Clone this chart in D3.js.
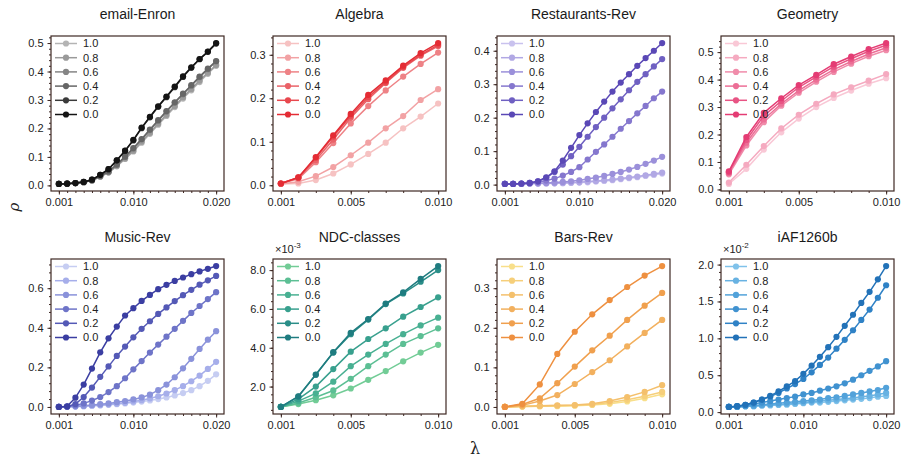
<!DOCTYPE html>
<html>
<head>
<meta charset="utf-8">
<script src="https://cdn.jsdelivr.net/npm/d3@7"></script>
<style>
  html, body { margin: 0; padding: 0; background: #ffffff; }
  svg { display: block; font-family: "Liberation Sans", Arial, Helvetica, sans-serif; }
</style>
</head>
<body>
<svg id="chart" width="902" height="461"></svg>
<script>
// ---------------- DATA ----------------
const lambda20 = [0.001,0.002,0.003,0.004,0.005,0.006,0.007,0.008,0.009,0.010,
                  0.011,0.012,0.013,0.014,0.015,0.016,0.017,0.018,0.019,0.020];
const lambda10 = [0.001,0.002,0.003,0.004,0.005,0.006,0.007,0.008,0.009,0.010];
const seriesLabels = ["1.0","0.8","0.6","0.4","0.2","0.0"];

const titles = ["email-Enron","Algebra","Restaurants-Rev","Geometry","Music-Rev","NDC-classes","Bars-Rev","iAF1260b"];

// series order: 1.0, 0.8, 0.6, 0.4, 0.2, 0.0
const emailEnron = [
  [0.005,0.006,0.008,0.011,0.017,0.030,0.045,0.067,0.093,0.119,0.150,0.181,0.213,0.244,0.275,0.305,0.334,0.363,0.392,0.420],
  [0.005,0.006,0.008,0.011,0.017,0.031,0.046,0.069,0.095,0.122,0.154,0.185,0.217,0.248,0.279,0.310,0.339,0.368,0.396,0.423],
  [0.005,0.006,0.008,0.011,0.018,0.032,0.048,0.072,0.100,0.129,0.161,0.194,0.227,0.259,0.290,0.320,0.350,0.380,0.408,0.435],
  [0.005,0.006,0.008,0.011,0.018,0.033,0.049,0.073,0.101,0.131,0.163,0.196,0.229,0.261,0.292,0.322,0.352,0.382,0.410,0.437],
  [0.005,0.006,0.008,0.012,0.020,0.037,0.057,0.088,0.121,0.158,0.201,0.239,0.276,0.310,0.345,0.381,0.413,0.443,0.469,0.498],
  [0.005,0.006,0.008,0.012,0.020,0.037,0.057,0.088,0.122,0.160,0.203,0.241,0.278,0.312,0.347,0.383,0.415,0.444,0.470,0.500]
];
const algebra = [
  [0.003,0.004,0.012,0.027,0.048,0.072,0.098,0.131,0.158,0.188],
  [0.003,0.008,0.021,0.042,0.069,0.098,0.131,0.159,0.196,0.221],
  [0.004,0.015,0.053,0.097,0.142,0.182,0.218,0.250,0.279,0.305],
  [0.004,0.017,0.058,0.105,0.155,0.198,0.235,0.270,0.298,0.320],
  [0.004,0.018,0.063,0.112,0.160,0.203,0.237,0.272,0.300,0.323],
  [0.004,0.018,0.065,0.115,0.164,0.208,0.241,0.275,0.304,0.327]
];
const restaurantsRev = [
  [0.002,0.002,0.002,0.003,0.003,0.003,0.004,0.004,0.005,0.006,0.007,0.009,0.011,0.013,0.016,0.019,0.022,0.026,0.029,0.033],
  [0.002,0.002,0.002,0.003,0.003,0.004,0.004,0.005,0.006,0.007,0.009,0.011,0.013,0.015,0.018,0.021,0.024,0.028,0.032,0.036],
  [0.002,0.002,0.002,0.003,0.004,0.005,0.006,0.008,0.010,0.013,0.017,0.021,0.026,0.032,0.038,0.045,0.053,0.062,0.072,0.083],
  [0.002,0.002,0.003,0.004,0.007,0.012,0.018,0.027,0.038,0.052,0.075,0.098,0.120,0.143,0.167,0.190,0.213,0.235,0.258,0.278],
  [0.002,0.002,0.003,0.005,0.010,0.020,0.038,0.060,0.085,0.113,0.143,0.172,0.200,0.228,0.255,0.282,0.307,0.330,0.353,0.375],
  [0.002,0.002,0.003,0.005,0.010,0.022,0.040,0.072,0.110,0.148,0.183,0.217,0.248,0.278,0.305,0.330,0.355,0.378,0.400,0.423]
];
const geometry = [
  [0.020,0.075,0.145,0.208,0.258,0.300,0.333,0.360,0.385,0.405],
  [0.025,0.090,0.158,0.222,0.272,0.312,0.346,0.372,0.396,0.420],
  [0.055,0.160,0.245,0.305,0.352,0.392,0.428,0.458,0.485,0.507],
  [0.060,0.170,0.255,0.312,0.360,0.400,0.436,0.466,0.493,0.516],
  [0.063,0.180,0.268,0.322,0.372,0.410,0.447,0.476,0.503,0.525],
  [0.066,0.191,0.279,0.332,0.380,0.417,0.456,0.484,0.511,0.533]
];
const musicRev = [
  [0.000,0.001,0.002,0.004,0.006,0.008,0.011,0.014,0.018,0.022,0.027,0.033,0.040,0.048,0.058,0.070,0.085,0.105,0.132,0.165],
  [0.000,0.001,0.002,0.004,0.006,0.009,0.012,0.016,0.021,0.027,0.034,0.043,0.054,0.068,0.085,0.105,0.130,0.158,0.192,0.228],
  [0.000,0.001,0.003,0.006,0.010,0.014,0.018,0.024,0.030,0.038,0.048,0.062,0.085,0.113,0.150,0.195,0.243,0.293,0.340,0.383],
  [0.000,0.002,0.008,0.018,0.032,0.050,0.075,0.105,0.145,0.190,0.232,0.275,0.315,0.355,0.395,0.435,0.475,0.510,0.545,0.580],
  [0.000,0.002,0.015,0.050,0.098,0.152,0.205,0.258,0.305,0.352,0.395,0.433,0.470,0.503,0.535,0.565,0.592,0.618,0.640,0.662],
  [0.000,0.003,0.047,0.113,0.194,0.276,0.347,0.406,0.462,0.499,0.536,0.566,0.595,0.617,0.637,0.654,0.671,0.685,0.698,0.712]
];
// NDC-classes values in units of 1e-3
const ndcClasses = [
  [0.95,1.10,1.30,1.55,1.90,2.35,2.80,3.30,3.75,4.15],
  [0.95,1.15,1.45,1.80,2.40,3.05,3.65,4.20,4.60,5.00],
  [0.95,1.25,1.65,2.25,3.05,3.65,4.20,4.70,5.15,5.55],
  [0.95,1.35,2.00,2.90,3.80,4.45,5.00,5.60,6.10,6.60],
  [0.95,1.48,2.62,3.75,4.70,5.45,6.25,6.80,7.40,8.00],
  [0.95,1.50,2.61,3.77,4.77,5.48,6.28,6.85,7.55,8.21]
];
const barsRev = [
  [0.000,0.001,0.002,0.002,0.003,0.005,0.008,0.014,0.022,0.032],
  [0.000,0.001,0.002,0.003,0.004,0.006,0.011,0.018,0.027,0.038],
  [0.000,0.002,0.003,0.004,0.005,0.008,0.015,0.025,0.038,0.055],
  [0.000,0.004,0.015,0.030,0.058,0.088,0.118,0.153,0.187,0.220],
  [0.000,0.006,0.022,0.060,0.102,0.143,0.180,0.220,0.256,0.288],
  [0.000,0.008,0.057,0.134,0.190,0.234,0.270,0.303,0.332,0.356]
];
// iAF1260b values in units of 1e-2
const iAF1260b = [
  [0.07,0.07,0.08,0.08,0.09,0.09,0.10,0.10,0.11,0.12,0.13,0.13,0.14,0.15,0.16,0.17,0.18,0.19,0.21,0.22],
  [0.07,0.07,0.08,0.08,0.09,0.10,0.10,0.11,0.12,0.13,0.14,0.15,0.16,0.17,0.18,0.19,0.21,0.22,0.24,0.26],
  [0.07,0.07,0.08,0.09,0.10,0.11,0.12,0.13,0.14,0.15,0.16,0.17,0.19,0.20,0.22,0.24,0.26,0.28,0.30,0.33],
  [0.07,0.08,0.09,0.11,0.13,0.15,0.17,0.19,0.21,0.24,0.26,0.29,0.32,0.35,0.39,0.44,0.50,0.56,0.62,0.69],
  [0.07,0.08,0.10,0.13,0.17,0.21,0.26,0.32,0.38,0.45,0.54,0.64,0.74,0.86,0.98,1.11,1.25,1.39,1.55,1.72],
  [0.07,0.08,0.10,0.13,0.17,0.22,0.28,0.35,0.42,0.52,0.63,0.75,0.88,1.02,1.17,1.32,1.48,1.63,1.80,1.98]
];

const yTicksList = [
  [0.0,0.1,0.2,0.3,0.4,0.5],
  [0.0,0.1,0.2,0.3],
  [0.0,0.1,0.2,0.3,0.4],
  [0.0,0.1,0.2,0.3,0.4,0.5],
  [0.0,0.2,0.4,0.6],
  [2.0,4.0,6.0,8.0],
  [0.0,0.1,0.2,0.3],
  [0.0,0.5,1.0,1.5,2.0]
];
const xTicks20 = [0.001,0.010,0.020];
const xTicks10 = [0.001,0.005,0.010];
const multipliers = [null,null,null,null,null,"-3",null,"-2"];

const palettes = [
  ["#b4b4b4","#9a9a9a","#858585","#666666","#3a3a3a","#141414"],
  ["#f6c2c2","#f2a2a4","#ee8286","#ea6268","#e8484e","#e42c34"],
  ["#c9c2ee","#b1a8e4","#9b90da","#8577ce","#6f60c2","#5a48b6"],
  ["#f9c8d6","#f5aac0","#f08caa","#ec6e96","#e85484","#e43c74"],
  ["#c6cdf2","#a6aeea","#8a92da","#6e74c8","#5459b6","#3b3ea2"],
  ["#72cc96","#5cbf94","#48b092","#38a08e","#2a8e88","#1f7c80"],
  ["#f8df8a","#f6cf7a","#f4c06c","#f2b05e","#f0a04e","#ee9040"],
  ["#80c2ea","#68b2e2","#52a2da","#4092d0","#2f82c6","#2272b8"]
];

// ---------------- LAYOUT ----------------
const svg = d3.select("#chart");
const colLeft = [51, 273, 497, 721];
const rowTop = [36, 259];
const PW = 173, PH = 155;
const frameColor = "#3e2823";
const textColor = "#222222";

const panels = [
  {data: emailEnron, xs: lambda20, xt: xTicks20},
  {data: algebra, xs: lambda10, xt: xTicks10},
  {data: restaurantsRev, xs: lambda20, xt: xTicks20},
  {data: geometry, xs: lambda10, xt: xTicks10},
  {data: musicRev, xs: lambda20, xt: xTicks20},
  {data: ndcClasses, xs: lambda10, xt: xTicks10},
  {data: barsRev, xs: lambda10, xt: xTicks10},
  {data: iAF1260b, xs: lambda20, xt: xTicks20}
];

panels.forEach((p, i) => {
  const left = colLeft[i % 4], top = rowTop[Math.floor(i / 4)];
  const g = svg.append("g").attr("transform", `translate(${left},${top})`);

  const xmin = d3.min(p.xs), xmax = d3.max(p.xs);
  const xpad = (xmax - xmin) * 0.05;
  const x = d3.scaleLinear().domain([xmin - xpad, xmax + xpad]).range([0, PW]);
  const all = p.data.flat();
  const ymin = d3.min(all), ymax = d3.max(all);
  const ypad = (ymax - ymin) * 0.05;
  const y = d3.scaleLinear().domain([ymin - ypad, ymax + ypad]).range([PH, 0]);

  const xMinor = g.append("g").attr("transform", `translate(0,${PH})`)
    .call(d3.axisBottom(x).tickValues(p.xs).tickSize(2).tickFormat(""));
  const xAxis = g.append("g").attr("transform", `translate(0,${PH})`)
    .call(d3.axisBottom(x).tickValues(p.xt).tickSize(3.5).tickPadding(4).tickFormat(d3.format(".3f")));
  const yt = yTicksList[i];
  const step = yt[1] - yt[0];
  const yMinorVals = [];
  const [d0, d1] = y.domain();
  for (let k = Math.ceil((d0 - yt[0]) / (step / 5) - 1e-9); ; k++) {
    const v = yt[0] + k * step / 5;
    if (v > d1) break;
    yMinorVals.push(v);
  }
  const yMinor = g.append("g").call(d3.axisLeft(y).tickValues(yMinorVals).tickSize(2).tickFormat(""));
  const yAxis = g.append("g").call(d3.axisLeft(y).tickValues(yt).tickSize(3.5).tickPadding(4).tickFormat(d3.format(".1f")));

  [xMinor, xAxis, yMinor, yAxis].forEach(a => {
    a.select(".domain").remove();
    a.selectAll("line").attr("stroke", frameColor).attr("stroke-width", 1);
    a.selectAll("text").attr("fill", textColor).style("font-size", "11px")
      .style("font-family", '"Liberation Sans", Arial, sans-serif');
  });

  const line = d3.line().x((d, j) => x(p.xs[j])).y(d => y(d));
  p.data.forEach((ser, s) => {
    const col = palettes[i][s];
    g.append("path").datum(ser).attr("d", line)
      .attr("fill", "none").attr("stroke", col).attr("stroke-width", 1.5);
    g.selectAll(null).data(ser).enter().append("circle")
      .attr("cx", (d, j) => x(p.xs[j])).attr("cy", d => y(d)).attr("r", 3.1)
      .attr("fill", col);
  });

  g.append("rect").attr("x", 0).attr("y", 0).attr("width", PW).attr("height", PH)
    .attr("fill", "none").attr("stroke", frameColor).attr("stroke-width", 1.2);

  const lg = g.append("g").attr("transform", "translate(4,7.5)");
  seriesLabels.forEach((lab, s) => {
    const row = lg.append("g").attr("transform", `translate(0,${s * 14.2})`);
    const col = palettes[i][s];
    row.append("line").attr("x1", 0).attr("x2", 22).attr("y1", 0).attr("y2", 0)
      .attr("stroke", col).attr("stroke-width", 1.5);
    row.append("circle").attr("cx", 11).attr("cy", 0).attr("r", 3.1).attr("fill", col);
    row.append("text").attr("x", 28).attr("y", 0).attr("dy", "0.36em")
      .attr("fill", textColor).style("font-size", "11px").text(lab);
  });

  g.append("text").attr("x", PW / 2).attr("y", -17).attr("text-anchor", "middle")
    .attr("fill", "#1a1a1a").style("font-size", "14px").text(titles[i]);

  if (multipliers[i]) {
    const t = g.append("text").attr("x", 2).attr("y", -6).attr("fill", textColor)
      .style("font-size", "11px");
    t.append("tspan").text("×10");
    t.append("tspan").attr("dy", -5).style("font-size", "8px").text(multipliers[i]);
  }
});

svg.append("text").attr("transform", "translate(19,207) rotate(-90)")
  .attr("text-anchor", "middle").attr("fill", "#222")
  .style("font-family", '"DejaVu Serif", "Liberation Serif", serif').style("font-style", "italic")
  .style("font-size", "15px").text("ρ");
svg.append("text").attr("x", 475).attr("y", 454)
  .attr("text-anchor", "middle").attr("fill", "#222")
  .style("font-family", '"DejaVu Serif", "Liberation Serif", serif')
  .style("font-size", "16px").text("λ");
</script>
</body>
</html>
